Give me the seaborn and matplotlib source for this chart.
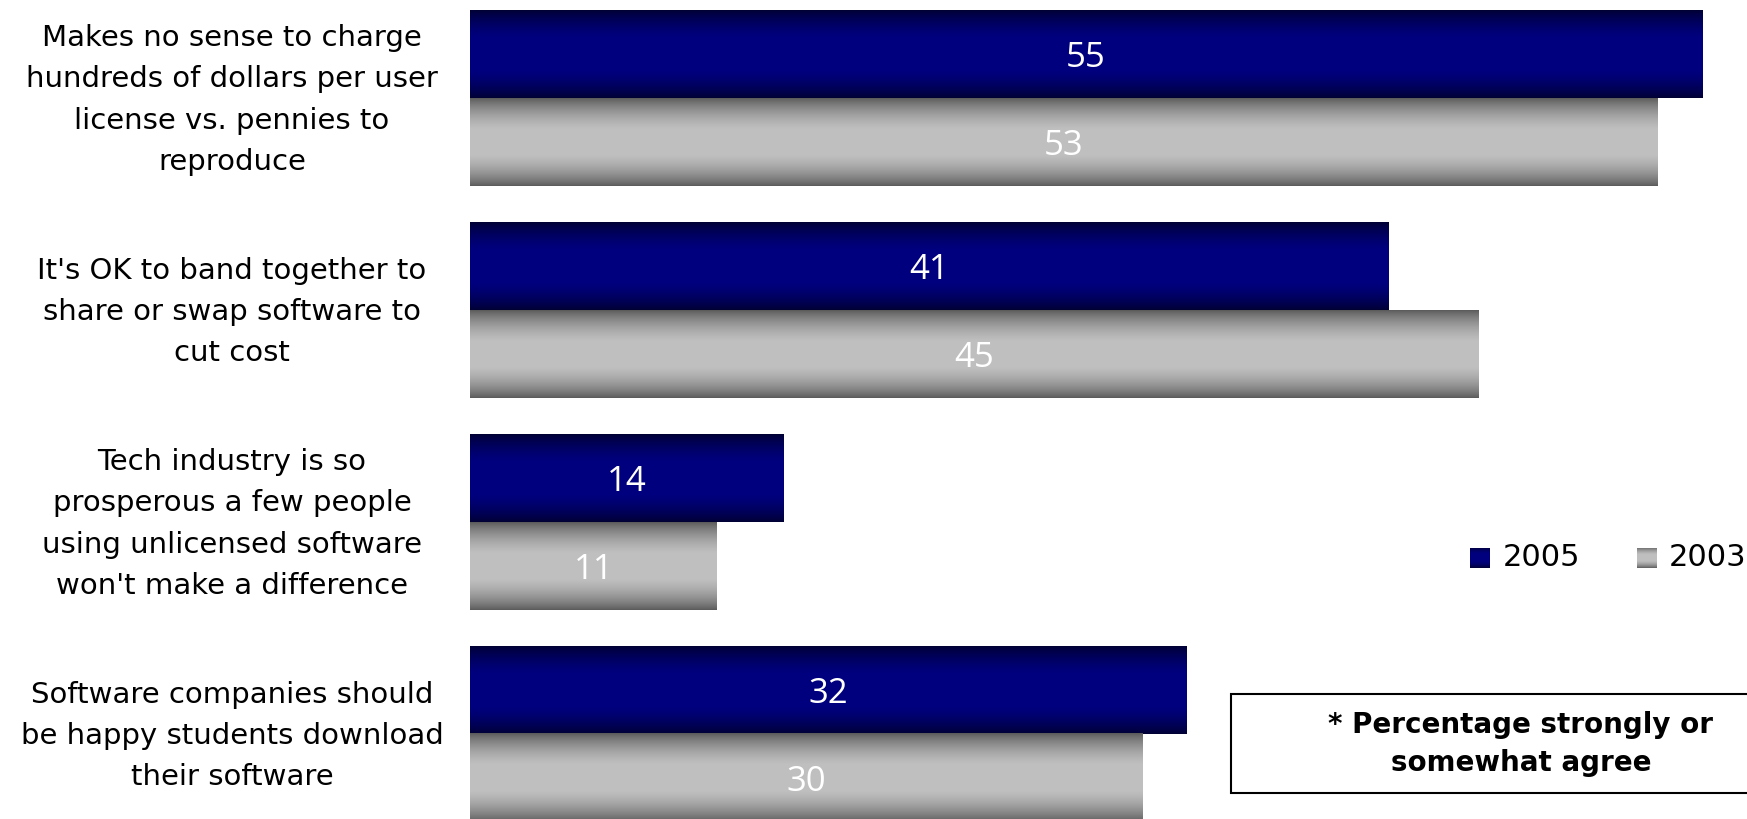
import numpy as np
import pandas as pd
import matplotlib
matplotlib.use("Agg")
import matplotlib.pyplot as plt
import seaborn as sns
from matplotlib.patches import Rectangle

# dados
categorias = [
    "Makes no sense to charge\nhundreds of dollars per user\nlicense vs. pennies to\nreproduce",
    "It's OK to band together to\nshare or swap software to\ncut cost",
    "Tech industry is so\nprosperous a few people\nusing unlicensed software\nwon't make a difference",
    "Software companies should\nbe happy students download\ntheir software",
]
valores_2005 = [55, 41, 14, 32]
valores_2003 = [53, 45, 11, 30]
anos = ["2005", "2003"]

df = pd.DataFrame({
    "categoria": categorias * 2,
    "ano": ["2005"] * 4 + ["2003"] * 4,
    "valor": valores_2005 + valores_2003,
})

sns.set_style("white")
plt.rcParams["font.family"] = ["DejaVu Sans"]
plt.rcParams["text.color"] = "black"

W, H = 1747, 819
fig = plt.figure(figsize=(W / 100, H / 100), dpi=100)
ax = fig.add_axes([470 / W, 0, 1 - 470 / W, 1])

sns.barplot(data=df, y="categoria", x="valor", hue="ano", hue_order=anos,
            orient="h", width=0.83, palette=["#000080", "#c0c0c0"],
            legend=False, ax=ax)

ax.set_xlabel("")
ax.set_ylabel("")
ax.set_xticks([])
ax.set_yticks([])
for s in ax.spines.values():
    s.set_visible(False)

# gradientes nas barras
t = np.linspace(0, 1, 256)
perfil = np.sin(np.pi * t) ** 0.8  # 0 nas bordas, 1 no meio
azul = np.array([[0.0, 0.0, 0.20 + (0.50 - 0.20) * min(1, p * 1.15)] for p in perfil])
cinza = np.array([[0.35 + (0.75 - 0.35) * min(1, p * 1.1)] * 3 for p in perfil])
grad = {"2005": azul[:, None, :], "2003": cinza[:, None, :]}

patches = [p for p in ax.patches if isinstance(p, Rectangle)]
n = len(categorias)
for i, p in enumerate(patches[: 2 * n]):
    ano = anos[i // n]
    x0, y0 = p.get_x(), p.get_y()
    w, h = p.get_width(), p.get_height()
    p.set_facecolor("none")
    p.set_edgecolor("none")
    ax.imshow(grad[ano], extent=[x0, x0 + w, y0 + h, y0], aspect="auto",
              interpolation="bilinear", zorder=1)
    ax.text(x0 + w / 2, y0 + h / 2 + 0.02, f"{int(round(w))}", color="white",
            ha="center", va="center", fontsize=25, family="Open Sans", zorder=3)

ax.set_xlim(0, 57)
ax.set_ylim(3.401, -0.462)

# rótulos das categorias
for i, cat in enumerate(categorias):
    fig.text(232 / W, 1 - (100 + 212 * i) / H, cat, ha="center", va="center",
             fontsize=21, linespacing=1.6)

# legenda
for xq, xt, ano in [(1470, 1503, "2005"), (1637, 1669, "2003")]:
    lax = fig.add_axes([xq / W, 1 - 568 / H, 20 / W, 20 / H])
    lax.imshow(grad[ano], aspect="auto", interpolation="bilinear")
    lax.set_axis_off()
    fig.text(xt / W, 1 - 558 / H, ano, fontsize=22, va="center")

# caixa da nota
fig.patches.append(Rectangle((1231 / W, 1 - 793 / H), 530 / W, 99 / H,
                             transform=fig.transFigure, facecolor="white",
                             edgecolor="black", linewidth=1.5))
fig.text(1521 / W, 1 - 744 / H, "* Percentage strongly or\nsomewhat agree",
         ha="center", va="center", fontsize=20, fontweight="bold",
         linespacing=1.45)

fig.savefig("out.png", dpi=100)
